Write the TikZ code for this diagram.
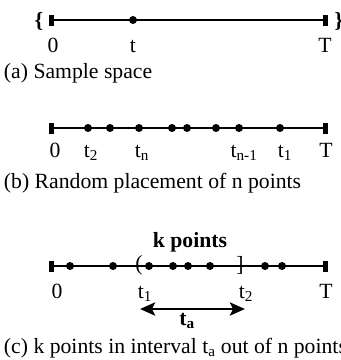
\documentclass[tikz,border=0pt]{standalone}
\usepackage{fontspec}
\setmainfont{Liberation Serif}
\usetikzlibrary{arrows.meta}
\begin{document}
\begin{tikzpicture}[x=1pt,y=-1pt,
  every node/.style={font=\fontsize{21.7}{26}\selectfont, inner sep=0pt, outer sep=0pt},
  axisline/.style={line width=1.9pt},
  endbar/.style={rectangle, fill=black, draw=none, minimum width=5pt, minimum height=11pt},
  dotpt/.style={circle, fill=black, draw=none, minimum size=8pt},
  lbl/.style={anchor=base},
  captxt/.style={anchor=base west},
  spanarrow/.style={line width=2.8pt, {Stealth[length=15pt,width=13pt,inset=3pt]}-{Stealth[length=15pt,width=13pt,inset=3pt]}},
]
\useasboundingbox (0,0) rectangle (341,360);
% ---------- (a)
\node[endbar] (a0) at (52,20) {};
\node[endbar] (aT) at (326,20) {};
\draw[axisline] (a0.center) -- (aT.center);
\node[dotpt] (at) at (133,20) {};
\node (alb) at (39,21) {\bfseries\{};
\node (arb) at (339,21) {\bfseries\}};
\node[lbl] (a0l) at (53,52) {0};
\node[lbl] (atl) at (133,52) {t};
\node[lbl] (aTl) at (325,52) {T};
\node[captxt] (acap) at (4,78) {(a) Sample space};
% ---------- (b)
\node[endbar] (b0) at (52,128) {};
\node[endbar] (bT) at (326,128) {};
\draw[axisline] (b0.center) -- (bT.center);
\foreach \x [count=\i] in {88,110,139,172,187,216,239,280}
  \node[dotpt] (b\i) at (\x,128) {};
\node[lbl] (b0l) at (55,157) {0};
\node[lbl] (b2l) at (91,157) {t\textsubscript{2}};
\node[lbl] (bnl) at (142,157) {t\textsubscript{n}};
\node[lbl] (bn1l) at (244,157) {t\textsubscript{n-1}};
\node[lbl] (b1l) at (285,157) {t\textsubscript{1}};
\node[lbl] (bTl) at (326,157) {T};
\node[captxt] (bcap) at (4,188) {(b) Random placement of n points};
% ---------- (c)
\node[lbl] (ck) at (190,247) {\bfseries k points};
\node[endbar] (c0) at (52,266) {};
\node[endbar] (cT) at (326,266) {};
\draw[axisline] (c0.center) -- (cT.center);
\foreach \x [count=\i] in {70,113,149,173,188,210,265,282}
  \node[dotpt] (c\i) at (\x,266) {};
\node (clp) at (139,265) {(};
\node (crb) at (240,265) {]};
\node[lbl] (c0l) at (57,298) {0};
\node[lbl] (c1l) at (145,298) {t\textsubscript{1}};
\node[lbl] (c2l) at (246,298) {t\textsubscript{2}};
\node[lbl] (cTl) at (326,298) {T};
\coordinate (cal) at (140,309);
\coordinate (car) at (245,309);
\draw[spanarrow] (cal) -- (car);
\node[lbl] (ctal) at (187,325) {\bfseries t\textsubscript{a}};
\node[captxt] (ccap) at (4,353) {(c) k points in interval t\textsubscript{a} out of n points};
\end{tikzpicture}
\end{document}
